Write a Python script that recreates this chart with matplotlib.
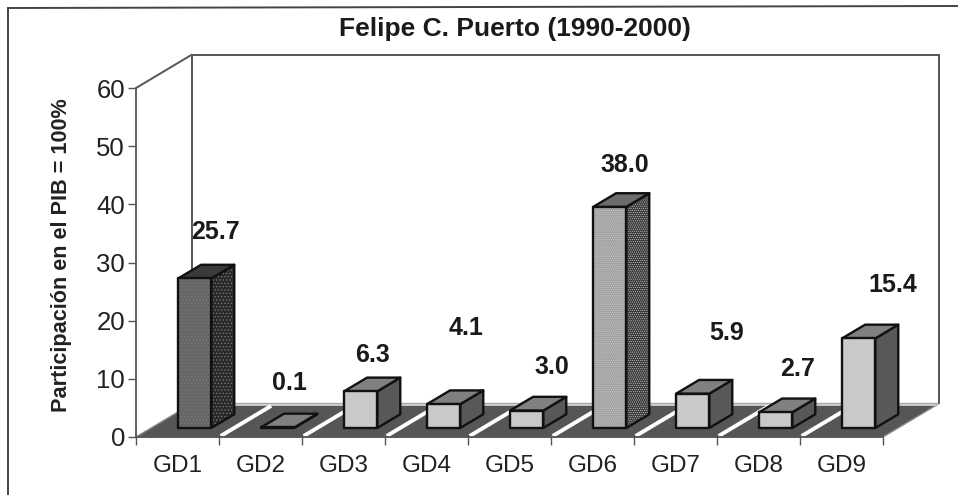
import matplotlib
matplotlib.use("Agg")
import matplotlib.pyplot as plt
from matplotlib.lines import Line2D
from matplotlib.patches import Polygon

categories = ["GD1", "GD2", "GD3", "GD4", "GD5", "GD6", "GD7", "GD8", "GD9"]
values = [25.7, 0.1, 6.3, 4.1, 3.0, 38.0, 5.9, 2.7, 15.4]
y_ticks = [0, 10, 20, 30, 40, 50, 60]
title = "Felipe C. Puerto (1990-2000)"
y_label = "Participación en el PIB = 100%"

plt.rcParams["font.family"] = ["Liberation Sans", "DejaVu Sans"]
plt.rcParams["hatch.linewidth"] = 0.5
W, H = 958, 495
fig = plt.figure(figsize=(W / 100, H / 100), dpi=100, facecolor="white")
L, R, T, B = 136, 883, 88, 437
ax = fig.add_axes([L / W, 1 - B / H, (R - L) / W, (B - T) / H])
ax.set_xlim(0, len(categories))
ax.set_ylim(0, y_ticks[-1])
ax.patch.set_visible(False)

# oblique projection: depth d in [0, 1] moves by (DX*d, DY*d) in data units
DX, DY = 0.675, 5.75
def P(x, y, d):
    return (x + DX * d, y + DY * d)

line = "#555555"
n = len(categories)
ymax = y_ticks[-1]
# walls
ax.add_patch(Polygon([P(0, 0, 1), P(0, ymax, 1), P(n, ymax, 1), P(n, 0, 1)], closed=False,
                     fill=False, ec=line, lw=1.4, clip_on=False, zorder=1))
ax.add_patch(Polygon([P(0, ymax, 0), P(0, ymax, 1)], closed=False, fill=False, ec=line, lw=1.4,
                     clip_on=False, zorder=1))
# floor
ax.add_patch(Polygon([P(0, 0, 0), P(0, 0, 1), P(n, 0, 1), P(n, 0, 0)], closed=True,
                     fc="#565656", ec="#8a8a8a", lw=1.0, clip_on=False, zorder=2))
ax.add_patch(Polygon([P(0, 0, 0.93), P(0, 0, 1), P(n, 0, 1), P(n, 0, 0.93)], closed=True,
                     fc="#cfcfcf", ec="none", clip_on=False, zorder=2.1))
for i in range(1, n):
    a, b = P(i, 0, 0.03), P(i, 0, 0.93)
    ax.plot([a[0], b[0]], [a[1], b[1]], color="white", lw=2.8, clip_on=False, zorder=2.2,
            solid_capstyle="butt")

# bars
BW, OFF = 0.40, 0.325
D0, D1 = 0.27, 0.68
styles = {0: ("#666666", "#3a3a3a", "#2a2a2a", ".....", "#7c7c7c"),
          5: ("#a2a2a2", "#6c6c6c", "#383838", "........", "#c4c4c4")}
plain = ("#c9c9c9", "#808080", "#585858", None, None)
for i, v in enumerate(values):
    fc, tc, sc, hatch, hc = styles.get(i, plain)
    x0 = i + OFF
    x1 = x0 + BW
    front = [P(x0, 0, D0), P(x1, 0, D0), P(x1, v, D0), P(x0, v, D0)]
    side = [P(x1, 0, D0), P(x1, 0, D1), P(x1, v, D1), P(x1, v, D0)]
    top = [P(x0, v, D0), P(x1, v, D0), P(x1, v, D1), P(x0, v, D1)]
    for poly, c, z in ((side, sc, 3), (top, tc, 3.1), (front, fc, 3.2)):
        if hatch and poly is not top:
            ax.add_patch(Polygon(poly, closed=True, fc=c, ec=hc, hatch=hatch, lw=0,
                                 clip_on=False, zorder=z))
            c = "none"
        ax.add_patch(Polygon(poly, closed=True, fc=c, ec="#111111", lw=1.7,
                             joinstyle="round", clip_on=False, zorder=z + 0.01))

# value labels: placement in pixels, as hand-placed in the original
label_xpx = [216, 289, 372, 466, 552, 625, 727, 798, 893]
label_ypx = [232, 383, 355, 328, 367, 165, 333, 369, 285]
for v, xp, yp in zip(values, label_xpx, label_ypx):
    fig.text(xp / W, 1 - yp / H, f"{v:.1f}", ha="center", va="center", fontsize=18,
             fontweight="bold", color="#1a1a1a")

# axes
for s in ("top", "right"):
    ax.spines[s].set_visible(False)
for s in ("left", "bottom"):
    ax.spines[s].set_color(line)
    ax.spines[s].set_linewidth(1.3)
    ax.spines[s].set_zorder(2.5)
ax.set_yticks(y_ticks)
ax.set_xticks(range(n + 1), [""] * (n + 1))
ax.tick_params(axis="y", length=6, width=1, color=line, labelsize=18.5, labelcolor="#222222", pad=2)
ax.tick_params(axis="x", length=6, width=1, color=line)
for i, c in enumerate(categories):
    ax.text(i + 0.5, -4.9, c, ha="center", va="center", fontsize=17.5, color="#222222", clip_on=False)

fig.text(515 / W, 1 - 29 / H, title, ha="center", va="center", fontsize=19, fontweight="bold",
         color="#1a1a1a")
fig.text(62 / W, 1 - 255 / H, y_label, rotation=90, ha="center", va="center", fontsize=15.6,
         fontweight="bold", color="#222222")

# chart frame: only the top and left sides fall inside the picture
frame = "#444444"
fig.add_artist(Line2D([8 / W, 8 / W], [0, 1 - 8 / H], color=frame, lw=1.4))
fig.add_artist(Line2D([8 / W, 1], [1 - 8 / H, 1 - 6 / H], color=frame, lw=1.4))
fig.savefig("out.png", dpi=100, facecolor="white")
